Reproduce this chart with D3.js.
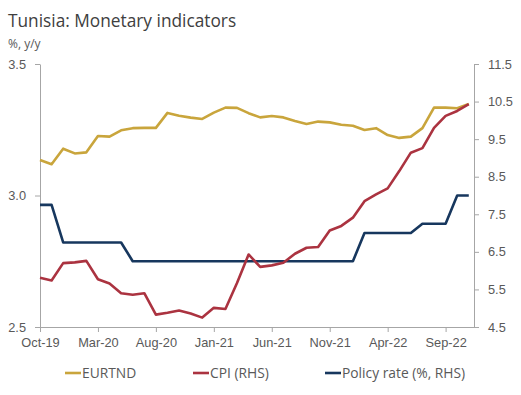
<!DOCTYPE html>
<html>
<head>
<meta charset="utf-8">
<script src="https://cdn.jsdelivr.net/npm/d3@7"></script>
<style>
  body { margin: 0; background: #fff; }
  svg { font-family: "Open Sans", "Noto Sans", sans-serif; }
  .axis path, .axis line { stroke: #a6a6a6; }
  .axis text { fill: #595959; font-size: 12.8px; }
</style>
</head>
<body>
<div id="chart"></div>
<script>
const width = 521,
height = 395,
margin = { top: 64, bottom: 68, left: 40, right: 47 };

// monthly, Oct-19 .. Nov-22
const months = ["Oct-19","Nov-19","Dec-19","Jan-20","Feb-20","Mar-20","Apr-20","May-20","Jun-20","Jul-20",
  "Aug-20","Sep-20","Oct-20","Nov-20","Dec-20","Jan-21","Feb-21","Mar-21","Apr-21","May-21",
  "Jun-21","Jul-21","Aug-21","Sep-21","Oct-21","Nov-21","Dec-21","Jan-22","Feb-22","Mar-22",
  "Apr-22","May-22","Jun-22","Jul-22","Aug-22","Sep-22","Oct-22","Nov-22"];

const eurtnd = [3.135,3.119,3.178,3.160,3.164,3.226,3.224,3.248,3.256,3.257,
  3.257,3.314,3.303,3.296,3.291,3.315,3.334,3.333,3.313,3.297,
  3.302,3.297,3.283,3.272,3.281,3.278,3.269,3.265,3.249,3.256,
  3.230,3.219,3.224,3.256,3.334,3.334,3.332,3.348];

const cpi = [5.81,5.74,6.20,6.22,6.26,5.77,5.66,5.40,5.36,5.40,
  4.83,4.88,4.94,4.86,4.75,5.01,4.98,5.67,6.43,6.10,
  6.14,6.21,6.45,6.61,6.63,7.07,7.19,7.41,7.85,8.03,
  8.19,8.65,9.14,9.26,9.80,10.12,10.25,10.43];

const policyRate = [7.75,7.75,6.75,6.75,6.75,6.75,6.75,6.75,6.25,6.25,
  6.25,6.25,6.25,6.25,6.25,6.25,6.25,6.25,6.25,6.25,
  6.25,6.25,6.25,6.25,6.25,6.25,6.25,6.25,7.0,7.0,
  7.0,7.0,7.0,7.25,7.25,7.25,8.0,8.0];

const leftTicks = [2.5, 3.0, 3.5];
const rightTicks = [4.5, 5.5, 6.5, 7.5, 8.5, 9.5, 10.5, 11.5];
const xTickIdx = [0, 5, 10, 15, 20, 25, 30, 35];

const colors = { eur: "#c9a53c", cpi: "#ab3340", pol: "#17375e" };

const svg = d3.select("#chart").append("svg")
  .attr("width", width)
  .attr("height", height);

const xScale = d3.scaleLinear()
  .domain([0, 37.45])
  .range([margin.left, width - margin.right]);

const yLeft = d3.scaleLinear()
  .domain([2.5, 3.5])
  .range([height - margin.bottom, margin.top]);

const yRight = d3.scaleLinear()
  .domain([4.5, 11.5])
  .range([height - margin.bottom, margin.top]);

// title
svg.append("text")
  .attr("x", 8).attr("y", 27)
  .attr("fill", "#404040")
  .style("font-size", "17.3px")
  .text("Tunisia: Monetary indicators");

svg.append("text")
  .attr("x", 8).attr("y", 48)
  .attr("fill", "#595959")
  .style("font-size", "12px")
  .text("%, y/y");

// axes
svg.append("g")
  .attr("class", "axis")
  .attr("transform", `translate(0,${height - margin.bottom})`)
  .call(d3.axisBottom(xScale).tickValues(xTickIdx).tickFormat(i => months[i]).tickSize(5).tickSizeOuter(0).tickPadding(6));

svg.append("g")
  .attr("class", "axis")
  .attr("transform", `translate(${margin.left},0)`)
  .call(d3.axisLeft(yLeft).tickValues(leftTicks).tickFormat(d3.format(".1f")).tickSize(5).tickSizeOuter(0).tickPadding(9));

svg.append("g")
  .attr("class", "axis")
  .attr("transform", `translate(${width - margin.right},0)`)
  .call(d3.axisRight(yRight).tickValues(rightTicks).tickFormat(d3.format(".1f")).tickSize(5).tickSizeOuter(0).tickPadding(9));

// lines
const lineL = d3.line().x((d, i) => xScale(i)).y(d => yLeft(d));
const lineR = d3.line().x((d, i) => xScale(i)).y(d => yRight(d));

svg.append("path").datum(policyRate)
  .attr("fill", "none").attr("stroke", colors.pol).attr("stroke-width", 2.6)
  .attr("stroke-linejoin", "round").attr("d", lineR);

svg.append("path").datum(eurtnd)
  .attr("fill", "none").attr("stroke", colors.eur).attr("stroke-width", 2.6)
  .attr("stroke-linejoin", "round").attr("d", lineL);

svg.append("path").datum(cpi)
  .attr("fill", "none").attr("stroke", colors.cpi).attr("stroke-width", 2.6)
  .attr("stroke-linejoin", "round").attr("d", lineR);

// legend
const legend = [
  { name: "EURTND", color: colors.eur, x: 65 },
  { name: "CPI (RHS)", color: colors.cpi, x: 193 },
  { name: "Policy rate (%, RHS)", color: colors.pol, x: 325 },
];

const lg = svg.append("g").selectAll("g")
  .data(legend)
  .join("g")
  .attr("transform", d => `translate(${d.x},373)`);

lg.append("line")
  .attr("x1", 0).attr("x2", 16)
  .attr("stroke", d => d.color).attr("stroke-width", 2.6);

lg.append("text")
  .attr("x", 17).attr("y", 5)
  .attr("fill", "#595959")
  .style("font-size", "13.8px")
  .text(d => d.name);
</script>
</body>
</html>
